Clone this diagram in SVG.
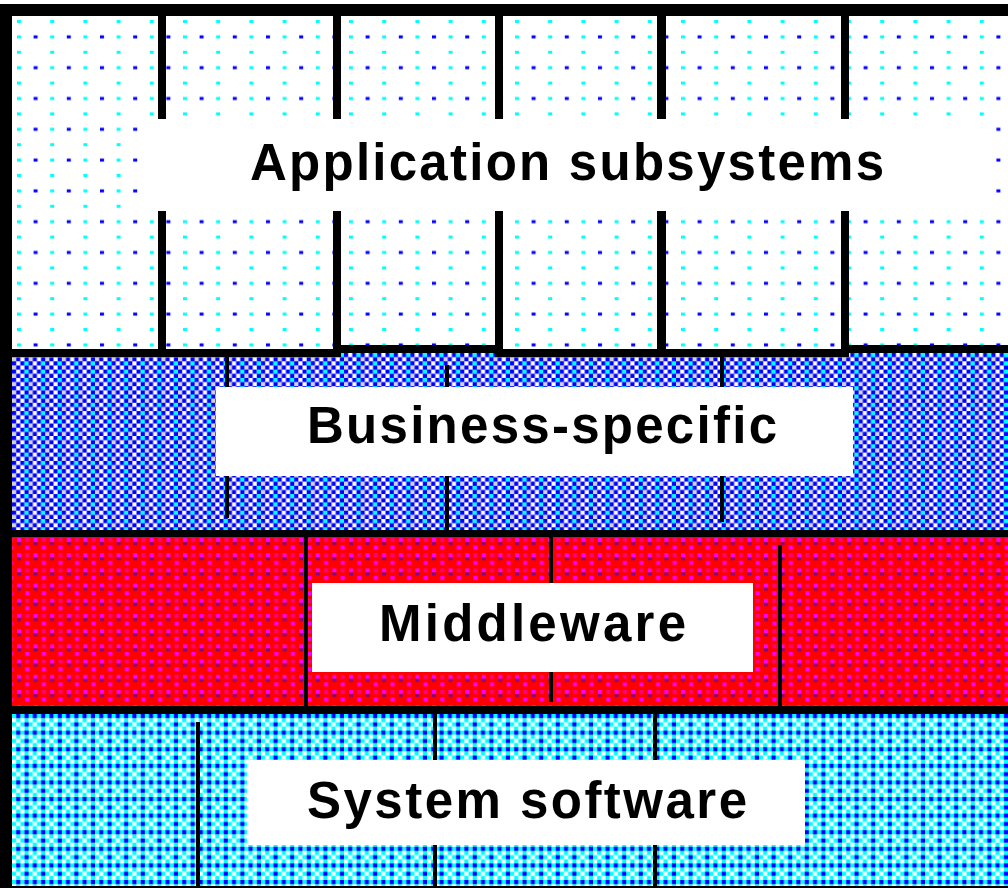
<svg xmlns="http://www.w3.org/2000/svg" width="1008" height="888" viewBox="0 0 1008 888">
<style>
.lbl{font-family:"Liberation Sans",Arial,sans-serif;font-weight:bold;font-size:51px;fill:#000}
.k{fill:#000}
.w{fill:#fff}
</style>
<defs>
<pattern id="pApp" patternUnits="userSpaceOnUse" x="17" y="20" width="33.2" height="30.8">
<rect x="0" y="0" width="4" height="3" fill="#00ffff"/>
<rect x="0" y="15.4" width="4" height="3" fill="#00ffff"/>
<rect x="16.6" y="15.4" width="4" height="3" fill="#0000ff"/>
</pattern>
<pattern id="pBiz" patternUnits="userSpaceOnUse" x="12" y="353" width="16.6" height="8.3">
<rect width="16.6" height="8.3" fill="#fff"/>
<rect x="0" y="0" width="4.15" height="4.15" fill="#0000ff"/>
<rect x="8.3" y="0" width="4.15" height="4.15" fill="#0000ff"/>
<rect x="12.45" y="0" width="4.15" height="4.15" fill="#00ffff"/>
<rect x="4.15" y="4.15" width="4.15" height="4.15" fill="#0000ff"/>
<rect x="12.45" y="4.15" width="4.15" height="4.15" fill="#0000ff"/>
<rect x="0" y="4.15" width="4.15" height="4.15" fill="#808080" opacity="0.35"/>
</pattern>
<pattern id="pMid" patternUnits="userSpaceOnUse" x="17" y="538" width="16.6" height="15.2">
<rect width="16.6" height="15.2" fill="#ff0000"/>
<rect x="0" y="0" width="4" height="4" fill="#ff00ff"/>
<rect x="8.3" y="7.6" width="4" height="4" fill="#ff00ff"/>
<rect x="0" y="4" width="4" height="3" fill="#800080"/>
<rect x="8.3" y="0" width="4" height="4" fill="#ff00ff" opacity="0.5"/>
</pattern>
<pattern id="pSys" patternUnits="userSpaceOnUse" x="12" y="714" width="16.6" height="16.6">
<rect width="16.6" height="16.6" fill="#fff"/>
<rect x="0" y="0" width="4.15" height="4.15" fill="#00ffff"/>
<rect x="8.3" y="0" width="4.15" height="4.15" fill="#00ffff"/>
<rect x="4.15" y="4.15" width="4.15" height="4.15" fill="#00ffff"/>
<rect x="12.45" y="4.15" width="4.15" height="4.15" fill="#00ffff"/>
<rect x="0" y="8.3" width="4.15" height="4.15" fill="#00ffff"/>
<rect x="8.3" y="8.3" width="4.15" height="4.15" fill="#00ffff"/>
<rect x="4.15" y="12.45" width="4.15" height="4.15" fill="#00ffff"/>
<rect x="12.45" y="12.45" width="4.15" height="4.15" fill="#00ffff"/>
<rect x="4.15" y="0" width="4.15" height="4.15" fill="#0000ff"/>
<rect x="12.45" y="0" width="4.15" height="4.15" fill="#0000ff"/>
<rect x="12.45" y="8.3" width="4.15" height="4.15" fill="#0000ff"/>
</pattern>
</defs>
<rect width="1008" height="888" fill="#fff"/>

<g id="application-subsystems">
<rect x="12" y="16" width="996" height="333" fill="url(#pApp)"/>
<rect class="w" x="140" y="119" width="853" height="92"/>
<rect class="k" x="158" y="16" width="8" height="103"/>
<rect class="k" x="158" y="211" width="8" height="138"/>
<rect class="k" x="333" y="16" width="8" height="103"/>
<rect class="k" x="333" y="211" width="8" height="138"/>
<rect class="k" x="495" y="16" width="8" height="103"/>
<rect class="k" x="495" y="211" width="8" height="138"/>
<rect class="k" x="657" y="16" width="9" height="103"/>
<rect class="k" x="657" y="211" width="9" height="138"/>
<rect class="k" x="841" y="16" width="8" height="103"/>
<rect class="k" x="841" y="211" width="8" height="138"/>
<text class="lbl" x="250" y="180" textLength="634" lengthAdjust="spacing">Application subsystems</text>
</g>

<g id="business-specific">
<rect x="12" y="353" width="996" height="177" fill="url(#pBiz)"/>
<rect class="w" x="216" y="387" width="637" height="89"/>
<rect class="k" x="225" y="357" width="4" height="30"/>
<rect class="k" x="225" y="476" width="4" height="42"/>
<rect class="k" x="445" y="365" width="4" height="22"/>
<rect class="k" x="445" y="476" width="4" height="54"/>
<rect class="k" x="720" y="357" width="4" height="30"/>
<rect class="k" x="720" y="476" width="4" height="46"/>
<text class="lbl" x="307" y="443" textLength="470" lengthAdjust="spacing">Business-specific</text>
</g>

<g id="middleware">
<rect x="12" y="537" width="996" height="169" fill="url(#pMid)"/>
<rect class="w" x="312" y="583" width="441" height="89"/>
<rect class="k" x="304" y="537" width="4" height="169"/>
<rect class="k" x="549" y="537" width="4" height="46"/>
<rect class="k" x="549" y="672" width="4" height="30"/>
<rect class="k" x="778" y="545" width="4" height="161"/>
<text class="lbl" x="379" y="641" textLength="307" lengthAdjust="spacing">Middleware</text>
</g>

<g id="system-software">
<rect x="12" y="714" width="996" height="172" fill="url(#pSys)"/>
<rect class="w" x="247" y="760" width="558" height="85"/>
<rect class="k" x="196" y="722" width="4" height="164"/>
<rect class="k" x="433" y="714" width="4" height="46"/>
<rect class="k" x="433" y="845" width="4" height="41"/>
<rect class="k" x="653" y="714" width="4" height="46"/>
<rect class="k" x="653" y="845" width="4" height="41"/>
<text class="lbl" x="307" y="818" textLength="440" lengthAdjust="spacing">System software</text>
</g>

<g id="frame">
<rect class="k" x="0" y="4" width="1008" height="12"/>
<rect class="k" x="0" y="4" width="12" height="884"/>
<rect class="k" x="0" y="349" width="341" height="8"/>
<rect class="k" x="341" y="345" width="154" height="8"/>
<rect class="k" x="495" y="349" width="354" height="8"/>
<rect class="k" x="849" y="345" width="159" height="8"/>
<rect class="k" x="0" y="530" width="1008" height="7"/>
<rect class="k" x="0" y="706" width="1008" height="8"/>
<rect class="k" x="0" y="886" width="1008" height="2"/>
</g>
</svg>
